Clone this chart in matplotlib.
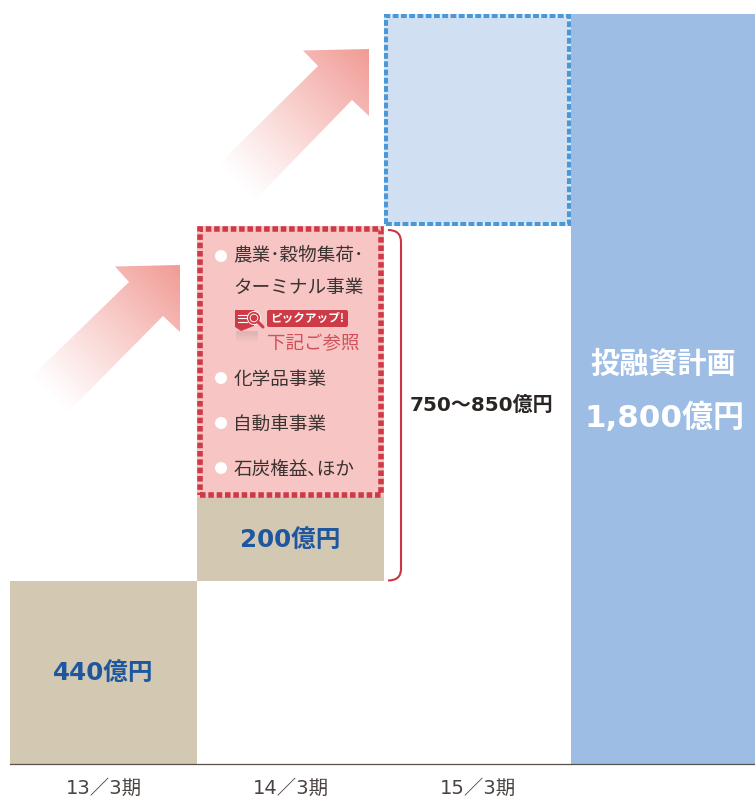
#!/usr/bin/env python3
import matplotlib
matplotlib.use("Agg")
import matplotlib.pyplot as plt
import numpy as np
from matplotlib.patches import Circle, FancyBboxPatch, PathPatch, Polygon
from matplotlib.path import Path

W, H = 755, 798
JP = ["Noto Sans CJK JP", "DejaVu Sans"]
NUM = ["DejaVu Sans", "Noto Sans CJK JP"]

# values in 100 million yen
periods = ["13／3期", "14／3期", "15／3期"]
results = [440, 200]
planned_low_high = [750, 850]
plan_total = 1800
plan_14 = 650
plan_15 = 510
business_lines = [
    (255.5, "農業･穀物集荷･", True),
    (288, "ターミナル事業", False),
    (380, "化学品事業", True),
    (425, "自動車事業", True),
    (470, "石炭権益､ほか", True),
]

TAN = "#d3c8b2"
BLUE = "#9dbde5"
LIGHT_BLUE = "#d0dff1"
DASH_BLUE = "#4a98d8"
PINK = "#f7c5c4"
RED = "#cf3a47"
NAVY = "#1f579f"
INK = "#3a3330"

BAR_PX = 187.0
PX_PER_UNIT = 750 / plan_total

fig = plt.figure(figsize=(W / 100, H / 100), dpi=100)
ax = fig.add_axes([0, 0, 1, 1])
ax.set_xlim(-0.5 - 10 / BAR_PX, -0.5 + 745 / BAR_PX)
ax.set_ylim(-(H - 764) / PX_PER_UNIT, 764 / PX_PER_UNIT)

ax.bar(0, results[0], width=1, color=TAN)
ax.bar(1, results[1], width=1, bottom=results[0], color=TAN)
ax.bar(1, plan_14, width=1, bottom=sum(results), color=PINK)
ax.bar(2, plan_15, width=1, bottom=sum(results) + plan_14, color=LIGHT_BLUE)
ax.bar(3, plan_total, width=1, color=BLUE)

# dashed outlines sit just inside the planned blocks
ix, iy = 2.8 / BAR_PX, 2.8 / PX_PER_UNIT
ax.bar(1, plan_14 - 2 * iy, width=1 - 2 * ix, bottom=sum(results) + iy, fill=False,
       edgecolor=RED, linewidth=4.0, linestyle=(0, (1.0, 0.5)), zorder=3)
ix, iy = 1.8 / BAR_PX, 2 / PX_PER_UNIT
ax.bar(2, plan_15 - 2 * iy, width=1 - 2 * ix, bottom=sum(results) + plan_14 + iy, fill=False,
       edgecolor="#dbe8f6", linewidth=2.9, zorder=3)
ax.bar(2, plan_15 - 2 * iy, width=1 - 2 * ix, bottom=sum(results) + plan_14 + iy, fill=False,
       edgecolor=DASH_BLUE, linewidth=2.9, linestyle=(0, (1.45, 0.6)), zorder=3)

ax.text(0, results[0] / 2 - 2.5, f"{results[0]}億円", ha="center", va="center", color=NAVY,
        fontsize=17.7, fontweight="bold", family=NUM)
ax.text(1, results[0] + results[1] / 2 - 3, f"{results[1]}億円", ha="center", va="center", color=NAVY,
        fontsize=17.7, fontweight="bold", family=NUM)

for name in ("top", "left", "right"):
    ax.spines[name].set_visible(False)
ax.spines["bottom"].set_position(("data", 0))
ax.spines["bottom"].set_bounds(-0.5, 3.5)
ax.spines["bottom"].set_color("#5a5048")
ax.spines["bottom"].set_linewidth(0.9)
ax.spines["bottom"].set_zorder(4)
ax.set_yticks([])
ax.set_xticks(range(len(periods)), periods, family=NUM, fontsize=14, color="#4a4340")
ax.tick_params(axis="x", length=0, pad=10.5)

# second layer in pixel coordinates for arrows, bullets and callouts
ov = fig.add_axes([0, 0, 1, 1], facecolor="none")
ov.set_xlim(0, W)
ov.set_ylim(H, 0)
ov.axis("off")


def gradient_arrow(points, tail, tip):
    xx, yy = np.meshgrid(np.arange(0, W, 1.0), np.arange(0, H, 1.0))
    d = np.array(tip, float) - np.array(tail, float)
    t = ((xx - tail[0]) * d[0] + (yy - tail[1]) * d[1]) / (d @ d)
    t = np.clip(t, 0, 1)
    rgba = np.zeros((H, W, 4))
    rgba[..., 0], rgba[..., 1], rgba[..., 2] = 0xf1 / 255, 0x9a / 255, 0x94 / 255
    rgba[..., 3] = t ** 1.1
    im = ov.imshow(rgba, extent=(0, W, H, 0), origin="upper", aspect="auto", zorder=1)
    poly = Polygon(points, closed=True, transform=ov.transData, fc="none", ec="none")
    ov.add_patch(poly)
    im.set_clip_path(poly)


gradient_arrow([(180, 265), (115, 266.5), (129, 282), (30, 378), (68, 412), (163, 316), (180, 332)],
               (49, 395), (180, 265))
gradient_arrow([(369, 49), (303, 50.5), (318, 66), (218, 165), (255, 200), (352, 100), (369, 116)],
               (236, 182), (369, 49))

for y, label, bullet in business_lines:
    if bullet:
        cy = 256 if y < 300 else y - 2
        ov.add_patch(Circle((221, cy), 6, fc="white", ec="none", zorder=5))
    ov.text(233.5, y, label, family=JP, fontsize=13.4, color=INK, ha="left", va="center", zorder=5)

# pick-up badge with its small document icon
ov.add_patch(FancyBboxPatch((267, 310), 81, 17, boxstyle="round,pad=0,rounding_size=2",
                            fc=RED, ec="none", zorder=5))
ov.text(307.5, 318.6, "ピックアップ!", family=JP, fontsize=8.4, fontweight="bold", color="white",
        ha="center", va="center", zorder=6)
ov.text(267, 344, "下記ご参照", family=JP, fontsize=13.3, color="#d2505a", ha="left", va="center", zorder=5)
ov.add_patch(Polygon([(235, 310), (254, 310), (254, 326), (241, 331), (235, 327)], closed=True,
                     fc=RED, ec="none", zorder=5))
for y in (314.5, 318, 321.5):
    ov.plot([238, 247], [y, y], color="white", lw=0.8, zorder=6)
ov.add_patch(Circle((254, 318), 5.2, fc=RED, ec="white", lw=2.6, zorder=6))
ov.add_patch(Circle((254, 318), 5.2, fc="none", ec=RED, lw=1.3, zorder=7))
ov.plot([258, 263], [322, 327], color=RED, lw=2.2, solid_capstyle="round", zorder=7)

# faint reflection under the icon
shade = np.zeros((12, 1, 4))
shade[..., :3] = 0.75, 0.62, 0.62
shade[..., 3] = np.linspace(0.45, 0, 12)[:, None]
ov.imshow(shade, extent=(236, 258, 343, 331), origin="upper", aspect="auto", zorder=4)
ov.set_xlim(0, W)
ov.set_ylim(H, 0)

bracket = Path([(388, 230), (401, 230), (401, 242), (401, 569), (401, 580.5), (388, 580.5)],
               [Path.MOVETO, Path.CURVE3, Path.CURVE3, Path.LINETO, Path.CURVE3, Path.CURVE3])
ov.add_patch(PathPatch(bracket, fc="none", ec="#cc3545", lw=1.5, zorder=5))

ov.text(481, 405, f"{planned_low_high[0]}～{planned_low_high[1]}億円", family=NUM, fontsize=14.4,
        fontweight="bold", color="#2a2523", ha="center", va="center", zorder=5)
ov.text(663, 364, "投融資計画", family=JP, fontsize=21, fontweight="bold", color="white",
        ha="center", va="center", zorder=5)
ov.text(664, 418, f"{plan_total:,}億円", family=NUM, fontsize=22.3, fontweight="bold", color="white",
        ha="center", va="center", zorder=5)

fig.savefig("out.png", dpi=100)
